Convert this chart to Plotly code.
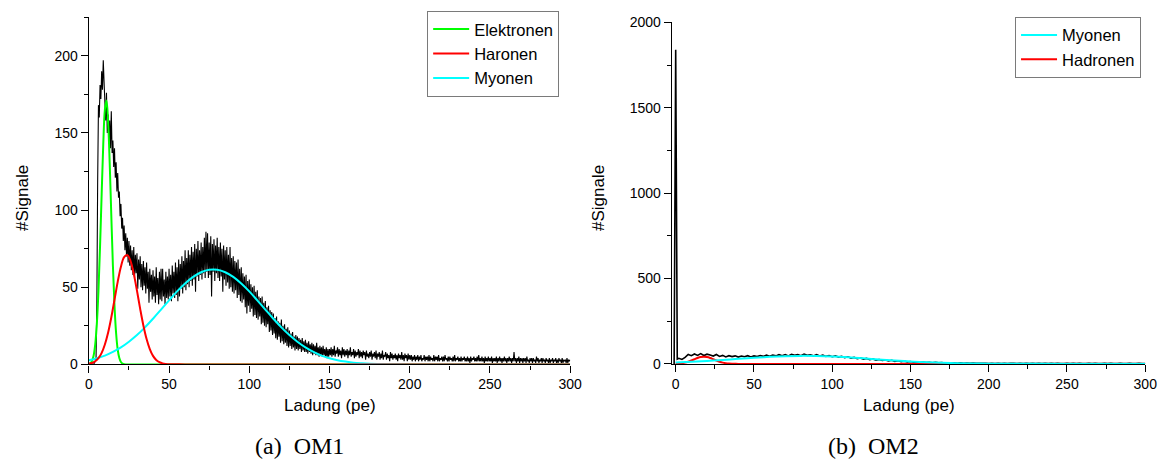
import plotly.graph_objects as go

# ---------------- OM1: charge spectrum (0.5 pe bins) ----------------
om1_charge = [i * 0.5 for i in range(0, 601)]
om1_counts = [
    # 0 - 14.5
    0, 0, 0, 0, 0, 0, 0, 1, 2, 4,
    40, 118, 168, 160, 181, 172, 190, 178, 197, 183,
    170, 158, 176, 150, 162, 143, 158, 140, 164, 137,
    # 15 - 29.5
    145, 128, 140, 121, 131, 112, 124, 108, 112, 96,
    104, 88, 95, 80, 90, 74, 85, 70, 82, 66,
    80, 64, 77, 61, 74, 58, 76, 56, 71, 59,
    # 30 - 44.5
    72, 49, 68, 55, 70, 50, 65, 48, 67, 51,
    63, 46, 66, 49, 60, 40, 62, 47, 58, 42,
    61, 44, 57, 40, 63, 45, 56, 39, 60, 42,
    # 45 - 59.5
    62, 41, 62, 44, 55, 39, 60, 43, 57, 42,
    62, 44, 58, 41, 64, 46, 60, 43, 66, 45,
    63, 41, 68, 44, 65, 49, 70, 46, 67, 50,
    # 60 - 74.5
    74, 48, 69, 52, 74, 50, 71, 54, 76, 51,
    73, 55, 78, 47, 75, 57, 80, 54, 74, 58,
    79, 55, 76, 59, 82, 56, 86, 60, 85, 56,
    # 75 - 89.5
    79, 58, 83, 44, 78, 60, 81, 54, 77, 59,
    82, 56, 76, 54, 79, 57, 75, 47, 77, 55,
    74, 51, 76, 53, 71, 49, 76, 50, 69, 47,
    # 90 - 104.5
    70, 46, 67, 48, 66, 43, 68, 45, 62, 41,
    63, 40, 59, 42, 57, 37, 58, 33, 54, 38,
    55, 34, 52, 36, 50, 31, 51, 32, 47, 30,
    # 105 - 119.5
    48, 29, 44, 31, 43, 26, 44, 27, 40, 25,
    41, 24, 37, 26, 38, 21, 35, 22, 34, 19,
    33, 20, 30, 17, 31, 16, 28, 18, 27, 14,
    # 120 - 134.5
    29, 15, 25, 13, 26, 14, 23, 12, 24, 11,
    22, 12, 20, 10, 21, 11, 18, 9, 19, 10,
    18, 9, 17, 10, 16, 8, 17, 9, 15, 8,
    # 135 - 149.5
    16, 8, 14, 7, 15, 8, 13, 7, 14, 6,
    13, 7, 12, 6, 14, 6, 11, 5, 12, 6,
    11, 5, 12, 6, 10, 5, 11, 4, 10, 5,
    # 150 - 164.5
    10, 6, 11, 5, 10, 6, 12, 5, 9, 7,
    11, 5, 10, 6, 9, 4, 11, 6, 10, 5,
    9, 6, 10, 4, 9, 6, 11, 5, 8, 6,
    # 165 - 179.5
    10, 4, 9, 5, 8, 6, 10, 4, 9, 5,
    8, 4, 9, 6, 8, 3, 9, 5, 7, 4,
    8, 5, 9, 3, 7, 5, 8, 4, 9, 3,
    # 180 - 194.5
    7, 5, 8, 3, 7, 4, 9, 3, 6, 5,
    8, 3, 7, 4, 6, 2, 8, 4, 7, 3,
    6, 4, 7, 3, 6, 2, 7, 4, 6, 3,
    # 195 - 200
    8, 3, 6, 2, 7, 4, 6, 2, 7, 3,
    6,
    # 200.5 - 250
    3, 6, 2, 5, 3, 6, 2, 5, 3, 6,
    2, 5, 3, 6, 2, 4, 3, 6, 2, 5,
    3, 5, 2, 6, 2, 5, 3, 4, 2, 6,
    2, 5, 3, 5, 2, 6, 2, 4, 3, 5,
    2, 5, 2, 6, 3, 4, 2, 5, 2, 5,
    3, 4, 2, 5, 2, 6, 2, 4, 3, 5,
    2, 4, 2, 5, 2, 4, 3, 5, 2, 4,
    2, 5, 2, 4, 1, 5, 2, 4, 3, 5,
    2, 4, 2, 5, 2, 6, 2, 4, 2, 5,
    2, 4, 1, 5, 2, 4, 2, 5, 2, 4,
    # 250.5 - 300
    2, 5, 1, 4, 2, 4, 2, 5, 1, 4,
    2, 5, 2, 4, 1, 4, 2, 5, 2, 4,
    1, 4, 2, 5, 2, 4, 1, 4, 2, 8,
    2, 4, 1, 4, 2, 5, 1, 4, 2, 4,
    1, 4, 2, 4, 1, 5, 2, 3, 1, 4,
    2, 4, 1, 4, 2, 3, 1, 5, 2, 4,
    1, 3, 2, 4, 1, 4, 2, 3, 1, 4,
    2, 3, 1, 4, 1, 3, 2, 4, 1, 3,
    2, 4, 1, 3, 1, 4, 2, 3, 1, 4,
    1, 3, 2, 3, 1, 4, 1, 3, 2, 3,
]

# OM1 fit components
om1_el_x = [0, 1, 2, 3, 4, 5, 6, 7, 8, 9, 10, 11, 12, 13, 14, 15, 16, 17,
            18, 19, 20, 21, 22, 30, 300]
om1_el_y = [0.3, 0.8, 2.3, 5.8, 13.1, 26.4, 47.6, 76.8, 110.6, 142.8, 165,
            171, 157.8, 130.7, 96.8, 64.1, 38.1, 20.2, 9.6, 4.1, 1.5, 0.5,
            0.1, 0, 0]

om1_had_x = [0, 2, 4, 6, 8, 10, 12, 14, 16, 18, 20, 22, 24, 26, 28, 30, 32,
             34, 36, 38, 40, 42, 44, 46, 48, 50, 60, 300]
om1_had_y = [0.4, 0.9, 2.0, 4.0, 7.5, 12.9, 20.5, 30.4, 41.9, 53.5, 63.3,
             69.5, 70.8, 67.0, 58.7, 47.8, 36.0, 25.2, 16.4, 9.9, 5.5, 2.9,
             1.4, 0.6, 0.25, 0.1, 0, 0]

om1_mu_x = [0, 5, 10, 15, 20, 25, 30, 35, 40, 45, 50, 55, 60, 65, 70, 75,
            80, 85, 90, 95, 100, 105, 110, 115, 120, 125, 130, 135, 140, 145,
            150, 155, 160, 165, 170, 175, 180, 190, 200, 300]
om1_mu_y = [2.7, 4.0, 5.7, 8.1, 11.0, 14.7, 19.0, 24.0, 29.6, 35.5, 41.5,
            47.3, 52.4, 56.7, 59.7, 61.3, 61.3, 59.7, 56.7, 52.4, 47.3, 41.5,
            35.5, 29.6, 24.0, 19.0, 14.7, 11.0, 8.1, 5.7, 4.0, 2.7, 1.8, 1.1,
            0.7, 0.4, 0.25, 0.1, 0, 0]

# ---------------- OM2: charge spectrum ----------------
om2_charge = [-1, 0, 1, 2] + list(range(4, 301, 2))
om2_counts = [
    0, 1840, 28, 33,
    26, 38, 55, 48, 58, 50, 60, 49, 57, 52,
    46, 55, 44, 50, 41, 48, 43, 47, 40, 46,
    42, 48, 41, 47, 43, 49, 44, 51, 45, 52,
    47, 54, 48, 55, 47, 56, 50, 54, 48, 57,
    50, 53, 47, 55, 46, 51, 44, 49, 42, 47,
    40, 44, 37, 42, 34, 38, 31, 35, 28, 32,
    25, 29, 22, 26, 20, 23, 17, 21, 15, 18,
    13, 16, 11, 14, 10, 12, 9, 11, 8, 10,
    7, 9, 6, 8, 5, 7, 5, 6, 4, 6,
    4, 5, 3, 5, 3, 4, 3, 4, 2, 3,
    2, 4, 2, 3, 2, 4, 3, 2, 3, 2,
    4, 2, 3, 2, 3, 2, 4, 2, 3, 2,
    3, 2, 2, 3, 2, 4, 2, 3, 2, 2,
    3, 2, 3, 2, 2, 3, 2, 3, 2, 2,
    3, 2, 2, 3, 2, 2, 3, 2, 2,
]

om2_mu_x = [0, 10, 20, 30, 40, 50, 60, 70, 80, 90, 100, 110, 120, 130, 140,
            150, 160, 170, 180, 190, 200, 210, 220, 230, 250, 300]
om2_mu_y = [8.3, 12.3, 17.4, 23.4, 29.8, 36.1, 41.5, 45.3, 47.0, 46.2, 43.2,
            38.4, 32.4, 25.9, 19.7, 14.2, 9.8, 6.4, 3.9, 2.3, 1.3, 0.7, 0.3,
            0.2, 0, 0]

om2_had_x = [0, 2, 4, 6, 8, 10, 12, 14, 16, 18, 20, 22, 24, 26, 28, 30, 32,
             34, 36, 38, 40, 50, 300]
om2_had_y = [0.9, 2.0, 4.1, 7.6, 12.9, 19.7, 27.4, 34.8, 40.1, 42, 40.1, 34.8,
             27.4, 19.7, 12.9, 7.6, 4.1, 2.0, 0.9, 0.4, 0.1, 0, 0]

GREEN = "#00ff00"
RED = "#ff0000"
CYAN = "#00ffff"
SANS = "Liberation Sans, Arial, sans-serif"
SERIF = "Liberation Serif, Times New Roman, serif"

W, H = 1175, 468


def px(x):
    return x / W


def py(y):
    return (H - y) / H


fig = go.Figure()

# OM1 panel: raw spectrum underneath, fitted components on top
fig.add_trace(go.Scatter(x=om1_charge, y=om1_counts, mode="lines",
                         line=dict(color="black", width=1.1, simplify=False),
                         showlegend=False, xaxis="x", yaxis="y"))
fig.add_trace(go.Scatter(x=om1_el_x, y=om1_el_y, mode="lines", name="Elektronen",
                         line=dict(color=GREEN, width=2, shape="spline"),
                         legendrank=1, legend="legend", xaxis="x", yaxis="y"))
fig.add_trace(go.Scatter(x=om1_mu_x, y=om1_mu_y, mode="lines", name="Myonen",
                         line=dict(color=CYAN, width=2, shape="spline"),
                         legendrank=3, legend="legend", xaxis="x", yaxis="y"))
fig.add_trace(go.Scatter(x=om1_had_x, y=om1_had_y, mode="lines", name="Haronen",
                         line=dict(color=RED, width=2, shape="spline"),
                         legendrank=2, legend="legend", xaxis="x", yaxis="y"))

# OM2 panel
fig.add_trace(go.Scatter(x=om2_charge, y=om2_counts, mode="lines",
                         line=dict(color="black", width=1.6, simplify=False),
                         showlegend=False, xaxis="x2", yaxis="y2"))
fig.add_trace(go.Scatter(x=om2_had_x, y=om2_had_y, mode="lines", name="Hadronen",
                         line=dict(color=RED, width=2, shape="spline"),
                         legendrank=2, legend="legend2", xaxis="x2", yaxis="y2"))
fig.add_trace(go.Scatter(x=om2_mu_x, y=om2_mu_y, mode="lines", name="Myonen",
                         line=dict(color=CYAN, width=2, shape="spline"),
                         legendrank=1, legend="legend2", xaxis="x2", yaxis="y2"))

axis_common = dict(
    showline=True, linecolor="black", linewidth=1.3,
    ticks="outside", ticklen=7, tickwidth=1.3, tickcolor="black",
    showgrid=False, zeroline=False,
    tickfont=dict(family=SANS, size=14, color="black"),
)

fig.update_layout(
    width=W, height=H,
    margin=dict(l=0, r=0, t=0, b=0),
    paper_bgcolor="white", plot_bgcolor="white",
    font=dict(family=SANS, color="black"),
    xaxis=dict(domain=[px(86), px(574)], range=[0, 300], anchor="y",
               tick0=0, dtick=50,
               minor=dict(ticks="outside", ticklen=4, dtick=25,
                          tickcolor="black", tickwidth=1.3),
               **axis_common),
    yaxis=dict(domain=[py(369), py(9.5)], range=[0, 225], anchor="x",
               tick0=0, dtick=50,
               minor=dict(ticks="outside", ticklen=4, dtick=25,
                          tickcolor="black", tickwidth=1.3),
               **axis_common),
    xaxis2=dict(domain=[px(677), px(1157)], range=[-2.5, 300], anchor="y2",
                tick0=0, dtick=50,
                minor=dict(ticks="outside", ticklen=4, dtick=25,
                           tickcolor="black", tickwidth=1.3),
                **axis_common),
    yaxis2=dict(domain=[py(368.5), py(15)], range=[0, 2000], anchor="x2",
                tick0=0, dtick=500,
                minor=dict(ticks="outside", ticklen=4, dtick=250,
                           tickcolor="black", tickwidth=1.3),
                **axis_common),
    legend=dict(x=px(429), y=py(3), xanchor="left", yanchor="top",
                bgcolor="white", bordercolor="#7a7a7a", borderwidth=1,
                font=dict(family=SANS, size=16.5, color="black"),
                itemwidth=36, tracegroupgap=0),
    legend2=dict(x=px(1025), y=py(9), xanchor="left", yanchor="top",
                 bgcolor="white", bordercolor="#7a7a7a", borderwidth=1,
                 font=dict(family=SANS, size=16.5, color="black"),
                 itemwidth=36, tracegroupgap=0),
    showlegend=True,
)

annotations = [
    dict(text="Ladung (pe)", x=px(331), y=py(412), font=dict(family=SANS, size=17)),
    dict(text="Ladung (pe)", x=px(917), y=py(412), font=dict(family=SANS, size=17)),
    dict(text="#Signale", x=px(19), y=py(197), textangle=-90,
         font=dict(family=SANS, size=17)),
    dict(text="#Signale", x=px(602), y=py(197), textangle=-90,
         font=dict(family=SANS, size=17)),
    dict(text="(a)\u00a0\u00a0OM1", x=px(300), y=py(453),
         font=dict(family=SERIF, size=24)),
    dict(text="(b)\u00a0\u00a0OM2", x=px(882), y=py(453),
         font=dict(family=SERIF, size=24)),
]
for a in annotations:
    a.update(xref="paper", yref="paper", xanchor="center", yanchor="middle",
             showarrow=False)
    a["font"]["color"] = "black"
fig.update_layout(annotations=annotations)

fig.write_html("out.html")
